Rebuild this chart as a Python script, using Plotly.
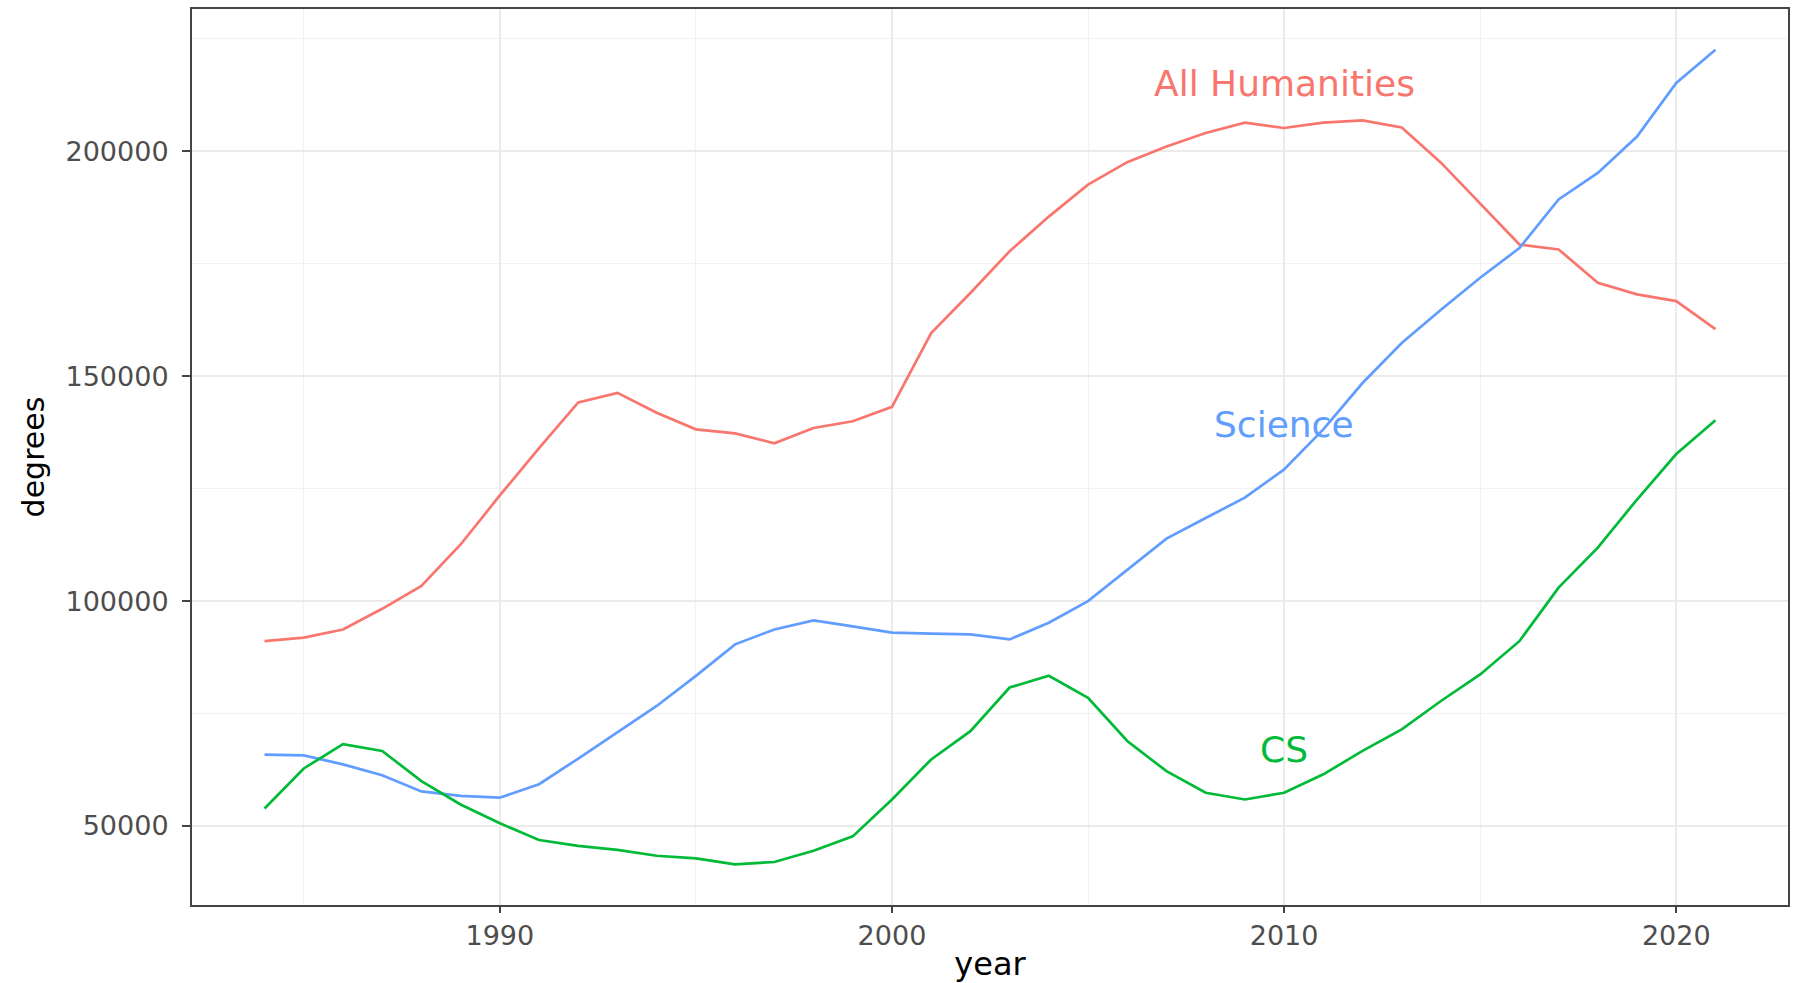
import plotly.graph_objects as go

# 연도별 학위 수
years = list(range(1984, 2022))

humanities = [91100, 91900, 93700, 98300, 103400, 112600, 123500, 134000, 144200, 146300,
              141900, 138200, 137300, 135100, 138500, 140000, 143200, 159600, 168500, 177800,
              185500, 192600, 197600, 201100, 204100, 206400, 205200, 206400, 206900, 205300,
              197500, 188500, 179300, 178200, 170800, 168200, 166700, 160500]

science = [65900, 65700, 63700, 61300, 57700, 56700, 56300, 59300, 65000, 70800,
           76700, 83400, 90400, 93700, 95700, 94400, 93000, 92800, 92600, 91500,
           95200, 100000, 107000, 113900, 118500, 123000, 129300, 138200, 148500, 157400,
           164800, 171900, 178500, 189300, 195200, 203300, 215200, 222600]

cs = [53900, 62800, 68200, 66700, 60000, 54800, 50600, 46900, 45600, 44700,
      43400, 42800, 41500, 42000, 44500, 47700, 55900, 64800, 71100, 80800,
      83400, 78500, 68900, 62200, 57400, 55900, 57400, 61500, 66700, 71500,
      77800, 83700, 91100, 103000, 111900, 122600, 132700, 140200]

series_names = ["All Humanities", "Science", "CS"]
series_colors = ["#F8766D", "#619CFF", "#00BA38"]
label_x = [2010, 2010, 2010]
label_y = [215000, 139300, 67000]

fig = go.Figure()

for name, vals, color in zip(series_names, [humanities, science, cs], series_colors):
    fig.add_trace(go.Scatter(
        x=years, y=vals, mode='lines', name=name,
        line=dict(color=color, width=2.7), showlegend=False
    ))

# 라벨 (geom_text 스타일)
for name, lx, ly, color in zip(series_names, label_x, label_y, series_colors):
    fig.add_annotation(
        x=lx, y=ly, text=name, showarrow=False,
        xanchor='center', yanchor='middle',
        font=dict(size=36, color=color, family="DejaVu Sans")
    )

# ggplot 기본 확장 (5%)
all_vals = humanities + science + cs
x_span = years[-1] - years[0]
y_span = max(all_vals) - min(all_vals)
x_range = [years[0] - 0.05 * x_span, years[-1] + 0.05 * x_span]
y_range = [min(all_vals) - 0.05 * y_span, max(all_vals) + 0.05 * y_span]

axis_common = dict(
    showline=True, linecolor="#444444", linewidth=2, mirror=True,
    ticks="outside", tickwidth=2, tickcolor="#444444",
    showgrid=True, gridcolor="#EBEBEB", gridwidth=2,
    zeroline=False,
    tickfont=dict(size=27, color="#4D4D4D", family="DejaVu Sans"),
)

fig.update_layout(
    width=1793, height=983,
    margin=dict(l=192, r=3, t=9, b=78),
    plot_bgcolor="white", paper_bgcolor="white",
    font=dict(family="DejaVu Sans"),
    xaxis=dict(
        range=x_range, tick0=1990, dtick=10, ticklen=6,
        minor=dict(dtick=5, tick0=1985, showgrid=True, gridcolor="#F2F2F2", gridwidth=1),
        title=dict(text="year", font=dict(size=32, color="black"), standoff=6),
        ticklabelstandoff=0,
        **axis_common
    ),
    yaxis=dict(
        range=y_range, tick0=0, dtick=50000, tickformat="d", ticklen=8,
        minor=dict(dtick=25000, tick0=0, showgrid=True, gridcolor="#F2F2F2", gridwidth=1),
        title=dict(text="degrees", font=dict(size=30, color="black"), standoff=12),
        ticklabelstandoff=8,
        **axis_common
    ),
)

fig.write_html("out.html", config={"displayModeBar": False},
               post_script="document.body.style.margin='0';document.body.style.overflow='hidden';")
